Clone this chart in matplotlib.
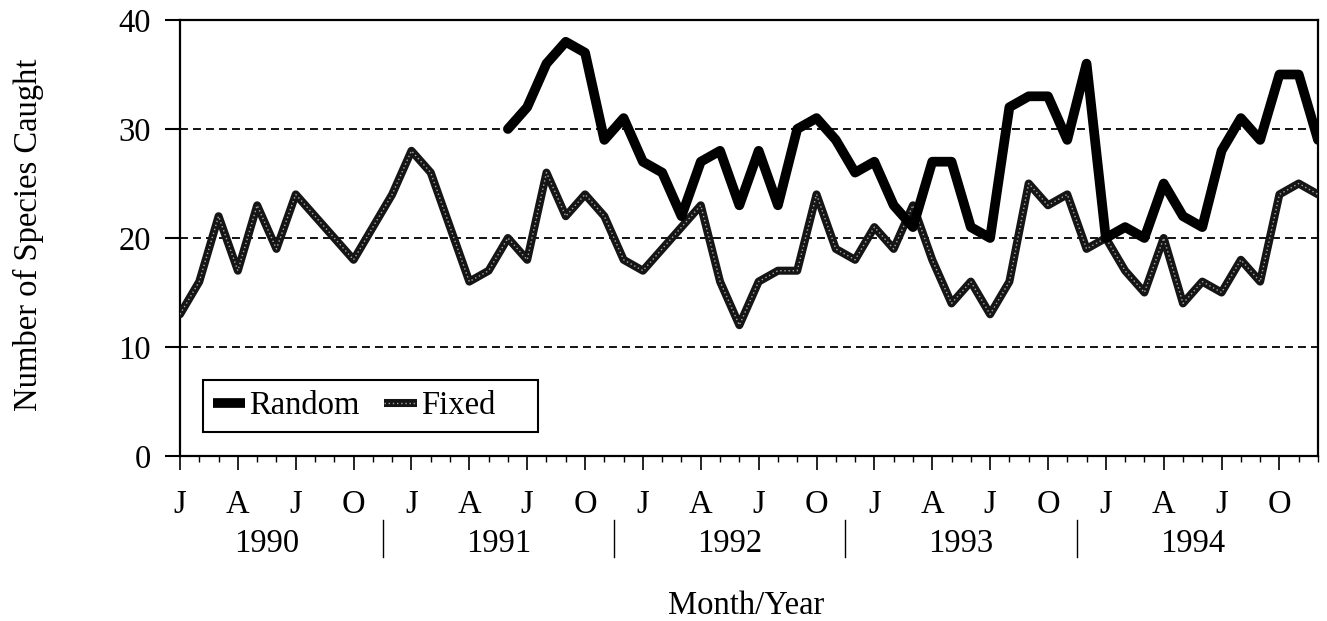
import numpy as np
import matplotlib
matplotlib.use("Agg")
import matplotlib.pyplot as plt
import matplotlib.transforms as mtransforms
from matplotlib.lines import Line2D
from matplotlib.patches import Rectangle
from matplotlib.legend_handler import HandlerTuple

plt.rcParams["font.family"] = ["Liberation Serif", "DejaVu Serif"]
FS = 23.5
plt.rcParams["font.size"] = FS

# Monthly catch, January 1990 to December 1994
years = [1990, 1991, 1992, 1993, 1994]
quarter_labels = ["J", "A", "J", "O"]

fixed_species = [13, 16, 22, 17, 23, 19, 24, 22, 20, 18,
                 21, 24, 28, 26, 21, 16, 17, 20, 18, 26,
                 22, 24, 22, 18, 17, 19, 21, 23, 16, 12,
                 16, 17, 17, 24, 19, 18, 21, 19, 23, 18,
                 14, 16, 13, 16, 25, 23, 24, 19, 20, 17,
                 15, 20, 14, 16, 15, 18, 16, 24, 25, 24]

# Random-site sampling began in June 1991
random_species = [np.nan] * 17 + [30, 32, 36, 38, 37, 29, 31, 27, 26, 22,
                                  27, 28, 23, 28, 23, 30, 31, 29, 26, 27,
                                  23, 21, 27, 27, 21, 20, 32, 33, 33, 29,
                                  36, 20, 21, 20, 25, 22, 21, 28, 31, 29,
                                  35, 35, 29]

y_ticks = [0, 10, 20, 30, 40]

months = np.arange(len(fixed_species))

fig = plt.figure(figsize=(13.27, 6.21), dpi=100)
ax = fig.add_axes([180 / 1327, 1 - 456 / 621, 1138 / 1327, 436 / 621])

FIXED_LW = 5.8
DOTS = dict(color="#a8a8a8", lw=1.0, ls=(0, (1.0, 2.0)))

# Fixed sites: dark line with a speckled light core
ax.plot(months, fixed_species, color="#151515", lw=FIXED_LW,
        solid_joinstyle="round", solid_capstyle="round", zorder=3)
ax.plot(months, fixed_species, zorder=4, **DOTS)
# Random sites: heavy solid black line
ax.plot(months, random_species, color="black", lw=7.0,
        solid_joinstyle="round", solid_capstyle="round", zorder=5)

ax.set_xlim(0, len(months) - 1)
ax.set_ylim(y_ticks[0], y_ticks[-1])
ax.set_yticks(y_ticks)

ax.set_xticks(np.arange(0, len(months), 3))
ax.set_xticklabels(quarter_labels * len(years))
ax.set_xticks(months, minor=True)

ax.tick_params(axis="x", which="major", direction="out", length=10,
               width=1.2, pad=14)
ax.tick_params(axis="x", which="minor", direction="out", length=4,
               width=1.0)
ax.tick_params(axis="y", direction="out", length=11, width=1.5, pad=10)

for side in ax.spines.values():
    side.set_linewidth(1.6)
    side.set_color("black")

ax.set_axisbelow(True)
ax.yaxis.grid(True, color="black", lw=1.3, ls=(0, (4.4, 2.8)))

# Year labels beneath the month letters, with divider ticks between years
trans = mtransforms.blended_transform_factory(ax.transData, ax.transAxes)
for k, yr in enumerate(years):
    ax.text(4.5 + 12 * k, -0.2202, str(yr), transform=trans,
            ha="center", va="baseline", fontsize=FS)
for k in range(len(years) - 1):
    ax.plot([10.5 + 12 * k] * 2, [-0.147, -0.232], transform=trans,
            color="black", lw=1.0, clip_on=False)

fig.text(28 / 1327, 1 - 235 / 621, "Number of Species Caught",
         rotation=90, ha="center", va="center", fontsize=FS)
fig.text(746 / 1327, 1 - 606 / 621, "Month/Year",
         ha="center", va="center", fontsize=FS)

# Legend box (drawn separately so it can be wider than its entries)
ax.add_patch(Rectangle((0.0202, 0.055), 0.2944, 0.1193,
                       transform=ax.transAxes, facecolor="white",
                       edgecolor="black", lw=1.5, zorder=9))

h_random = Line2D([], [], color="black", lw=7.0, solid_capstyle="butt")
h_fixed_base = Line2D([], [], color="#151515", lw=FIXED_LW,
                      solid_capstyle="butt")
h_fixed_dots = Line2D([], [], **DOTS)
leg = ax.legend([h_random, (h_fixed_base, h_fixed_dots)], ["Random", "Fixed"],
                handler_map={tuple: HandlerTuple(ndivide=1, pad=0)},
                loc="center left", bbox_to_anchor=(0.0202, 0.055 + 0.1193 / 2),
                borderaxespad=0, ncol=2, handlelength=1.0,
                handletextpad=0.12, columnspacing=0.75, borderpad=0.3,
                frameon=False, fontsize=FS)
leg.set_zorder(10)

fig.savefig("out.png", dpi=100)
